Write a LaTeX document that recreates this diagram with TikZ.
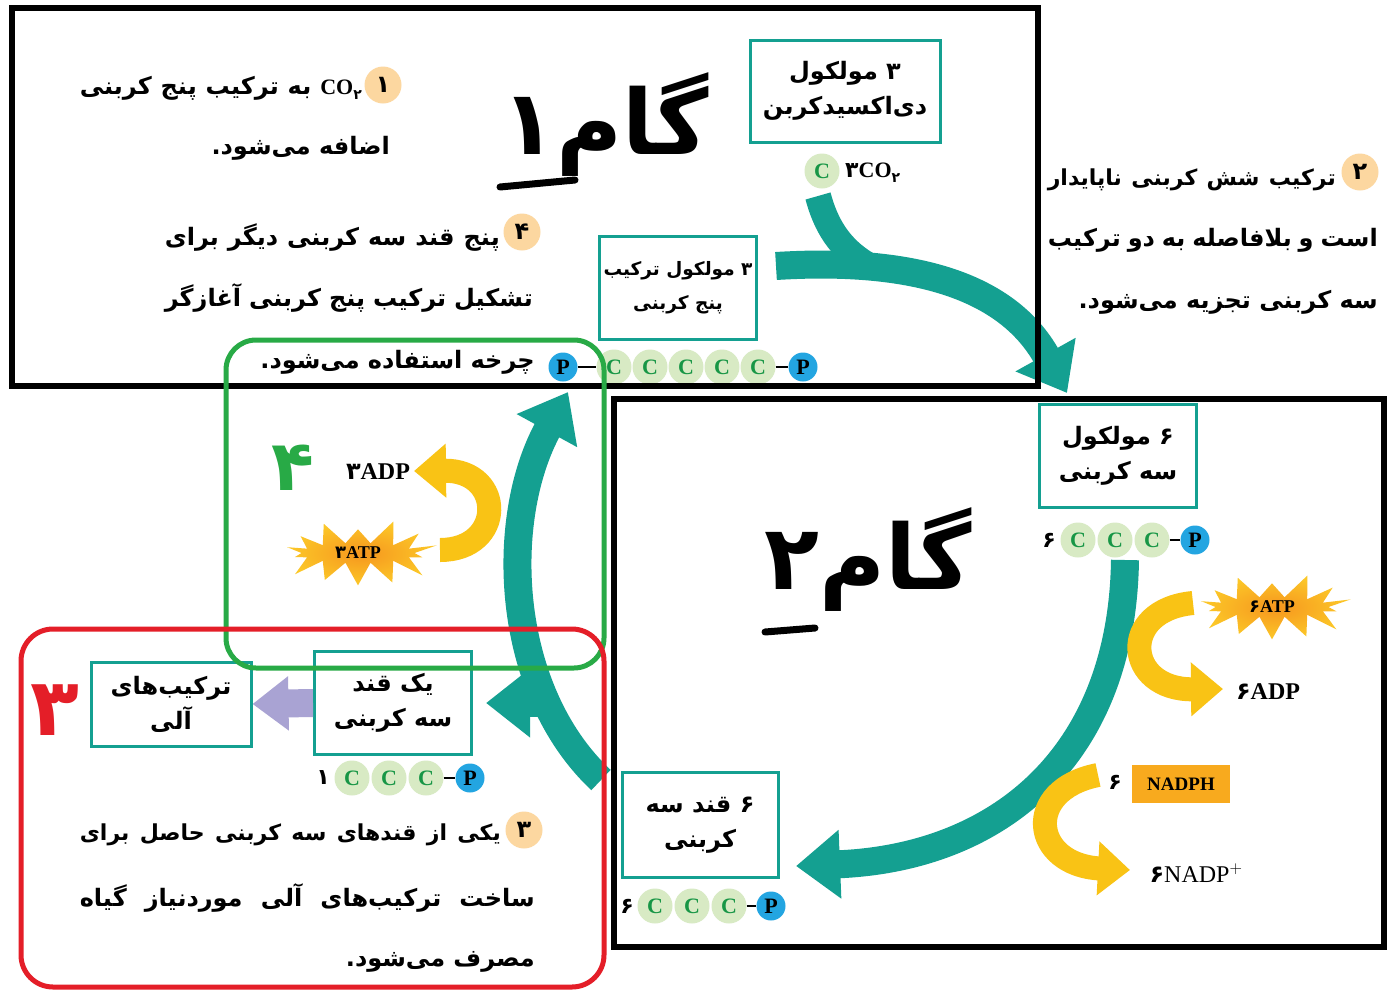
\documentclass[tikz,border=0pt]{standalone}
\usepackage{fontspec}
\usetikzlibrary{arrows.meta,shapes.symbols}
\TeXXeTstate=1
\newfontfamily\fa[Script=Arabic]{DejaVu Sans}
\newfontfamily\lat{Liberation Serif}
\definecolor{tealc}{RGB}{20,160,145}
\definecolor{cbg}{RGB}{216,234,196}
\definecolor{cfg}{RGB}{24,150,70}
\definecolor{pblue}{RGB}{35,165,225}
\definecolor{numo}{RGB}{252,215,160}
\definecolor{yel}{RGB}{249,195,21}
\definecolor{burstin}{RGB}{246,150,30}
\definecolor{burstout}{RGB}{252,200,40}
\definecolor{nadph}{RGB}{248,170,30}
\definecolor{lav}{RGB}{169,163,211}
\definecolor{grn}{RGB}{40,170,70}
\definecolor{redc}{RGB}{228,30,40}
\newcommand{\jline}[2]{\hbox to #1pt{\spaceskip=0.28em plus 1fil minus 0.08em\relax #2}}
\newcommand{\ptxt}{\fa\bfseries\fontsize{24}{28}\selectfont}
\newcommand{\pstxt}{\fa\bfseries\fontsize{22}{28}\selectfont}
\newcommand{\btxt}{\fa\bfseries\fontsize{24}{35}\selectfont}
\newcommand{\bstxt}{\fa\bfseries\fontsize{18.5}{34}\selectfont}
\newcommand{\lsb}{\lat\bfseries\fontsize{22}{24}\selectfont}
\newcommand{\sub}[1]{\raisebox{-5pt}{\fa\bfseries\fontsize{14}{14}\selectfont #1}}
\pgfmathsetseed{11}
\tikzset{
  cc/.style={circle, fill=cbg, text=cfg, font=\lsb, minimum size=35pt, inner sep=0pt},
  pp/.style={circle, fill=pblue, text=black, font=\lsb, minimum size=29pt, inner sep=0pt},
  numc/.style={circle, fill=numo, font=\ptxt, minimum size=37pt, inner sep=0pt},
  tbox/.style={draw=tealc, line width=3pt, align=center, font=\btxt, inner sep=0pt},
  ptext/.style={anchor=east, inner sep=0pt, font=\ptxt},
  band/.style={draw=tealc, line width=28pt, -{Triangle[length=44pt,width=66pt]}},
  yband/.style={draw=yel, line width=24pt, -{Triangle[length=32pt,width=52pt]}},
  burst/.style={starburst, starburst points=14, starburst point height=26pt, random starburst=35, shading=radial, inner color=burstin, outer color=burstout, minimum width=165pt, minimum height=72pt, inner sep=0pt, font=\lat\bfseries\fontsize{18}{20}\selectfont},
  dashl/.style={line width=2.5pt, draw=black},
  lbl/.style={font=\lsb, inner sep=0pt},
  blackbox/.style={draw=black, line width=6pt},
  hand/.style={font=\fa\bfseries\fontsize{90}{90}\selectfont, inner sep=0pt}
}
\begin{document}
\begin{tikzpicture}[x=1pt,y=-1pt]
\useasboundingbox (0,0) rectangle (1393,991);
\fill[white] (0,0) rectangle (1393,991);

% ---------- teal band arrows ----------
\coordinate (t1s) at (776,266);
\coordinate (t1e) at (1067,393);
\draw[band] (t1s) .. controls (905,258) and (1005,282) .. (t1e);
\coordinate (cob) at (818,196);
\coordinate (coj) at (866,264);
\draw[draw=tealc, line width=26pt] (cob) .. controls (826,226) and (840,248) .. (coj);
\coordinate (t2s) at (1125,560);
\coordinate (t2e) at (796,866);
\draw[band] (t2s) .. controls (1122,760) and (995,858) .. (t2e);
\coordinate (t3s) at (601,780);
\coordinate (t3e) at (568,392);
\draw[band] (t3s) .. controls (505,690) and (498,520) .. (t3e);
\coordinate (t4s) at (548,703);
\coordinate (t4e) at (486,703);
\draw[band] (t4s) -- (t4e);

% ---------- CO2 molecule ----------
\node[cc] (co2c) at (822,171) {C};
\node[lbl, anchor=west] (co2t) at (845,173) {{\fa\bfseries ۳}CO\sub{۲}};

% ---------- top chain ----------
\node[pp] (tp1) at (563,367) {P};
\node[cc] (tc1) at (614,367) {C};
\node[cc] (tc2) at (650,367) {C};
\node[cc] (tc3) at (686,367) {C};
\node[cc] (tc4) at (722,367) {C};
\node[cc] (tc5) at (758,367) {C};
\node[pp] (tp2) at (803,367) {P};
\draw[dashl] (tp1.east) -- (tc1.west);
\draw[dashl] (tc5.east) -- (tp2.west);

% ---------- chain 6CCC-P (right) ----------
\node[lbl] (n6a) at (1049,540) {\fa\bfseries ۶};
\node[cc] (rc1) at (1078,540) {C};
\node[cc] (rc2) at (1115,540) {C};
\node[cc] (rc3) at (1152,540) {C};
\node[pp] (rp) at (1195,540) {P};
\draw[dashl] (rc3.east) -- (rp.west);

% ---------- chain 1CCC-P ----------
\node[lbl] (n1a) at (323,778) {\fa\bfseries ۱};
\node[cc] (mc1) at (352,778) {C};
\node[cc] (mc2) at (389,778) {C};
\node[cc] (mc3) at (426,778) {C};
\node[pp] (mp) at (470,778) {P};
\draw[dashl] (mc3.east) -- (mp.west);

% ---------- chain 6CCC-P (bottom) ----------
\node[lbl] (n6b) at (627,906) {\fa\bfseries ۶};
\node[cc] (bc1) at (655,906) {C};
\node[cc] (bc2) at (692,906) {C};
\node[cc] (bc3) at (729,906) {C};
\node[pp] (bp) at (771,906) {P};
\draw[dashl] (bc3.east) -- (bp.west);

% ---------- teal boxes ----------
\node[tbox, minimum width=190pt, minimum height=102pt] (b1) at (845,91) {\beginR ۳ مولکول\endR\\\beginR دی‌اکسیدکربن\endR};
\node[tbox, font=\bstxt, minimum width=157pt, minimum height=103pt] (b2) at (678,288) {\beginR ۳ مولکول ترکیب\endR\\\beginR پنج کربنی\endR};
\node[tbox, minimum width=157pt, minimum height=103pt] (b3) at (1118,456) {\beginR ۶ مولکول\endR\\\beginR سه کربنی\endR};
\node[tbox, minimum width=156pt, minimum height=105pt] (b4) at (700,825) {\beginR ۶ قند سه\endR\\\beginR کربنی\endR};
\node[tbox, minimum width=157pt, minimum height=103pt] (b5) at (393,703) {\beginR یک قند\endR\\\beginR سه کربنی\endR};
\node[tbox, minimum width=160pt, minimum height=84pt] (b6) at (171,704) {\beginR ترکیب‌های\endR\\\beginR آلی\endR};

% purple arrow
\draw[draw=lav, line width=28pt, -{Triangle[length=36pt,width=52pt]}] (b5.west) -- (b6.east);

% ---------- paragraphs ----------
\node[numc] (k1) at (383,85) {۱};
\node[ptext] (p1a) at (362,88) {\jline{282}{\beginR \beginL{\lsb CO}\sub{۲}\endL{} به ترکیب پنج کربنی\endR}};
\node[ptext] (p1b) at (390,148) {\beginR اضافه می‌شود.\endR};

\node[numc] (k4) at (522,232) {۴};
\node[ptext] (p4a) at (500,238) {\jline{335}{\beginR پنج قند سه کربنی دیگر برای\endR}};
\node[ptext] (p4b) at (533,298) {\jline{368}{\beginR تشکیل ترکیب پنج کربنی آغازگر\endR}};
\node[ptext] (p4c) at (535,362) {\beginR چرخه استفاده می‌شود.\endR};

\node[numc] (k2) at (1360,172) {۲};
\node[ptext, font=\pstxt] (p2a) at (1336,180) {\jline{288}{\beginR ترکیب شش کربنی ناپایدار\endR}};
\node[ptext] (p2b) at (1378,240) {\jline{330}{\beginR است و بلافاصله به دو ترکیب\endR}};
\node[ptext] (p2c) at (1378,302) {\beginR سه کربنی تجزیه می‌شود.\endR};

\node[numc] (k3) at (524,830) {۳};
\node[ptext, font=\pstxt] (p3a) at (501,835) {\jline{421}{\beginR یکی از قندهای سه کربنی حاصل برای\endR}};
\node[ptext] (p3b) at (535,898) {\jline{455}{\beginR ساخت ترکیب‌های آلی موردنیاز گیاه\endR}};
\node[ptext] (p3c) at (535,962) {\beginR مصرف می‌شود.\endR};

% ---------- yellow cycles ----------
\coordinate (y1s) at (440,550);
\coordinate (y1e) at (414,471);
\draw[yband] (y1s) .. controls (505,550) and (505,470) .. (y1e);
\node[burst] (atp3) at (358,553) {{\fa\bfseries ۳}ATP};
\node[lbl, font=\lat\bfseries\fontsize{24}{26}\selectfont] (adp3) at (378,472) {{\fa\bfseries ۳}ADP};

\coordinate (y2s) at (1193,603);
\coordinate (y2e) at (1223,689);
\draw[yband] (y2s) .. controls (1118,610) and (1125,690) .. (y2e);
\node[burst] (atp6) at (1272,607) {{\fa\bfseries ۶}ATP};
\node[lbl, font=\lat\bfseries\fontsize{24}{26}\selectfont] (adp6) at (1268,692) {{\fa\bfseries ۶}ADP};

\coordinate (y3s) at (1098,775);
\coordinate (y3e) at (1130,870);
\draw[yband] (y3s) .. controls (1022,790) and (1032,865) .. (y3e);
\node[fill=nadph, minimum width=98pt, minimum height=38pt, font=\lat\bfseries\fontsize{19}{20}\selectfont, inner sep=0pt] (nad) at (1181,784) {NADPH};
\node[lbl] (n6n) at (1115,782) {\fa\bfseries ۶};
\node[font=\lat\fontsize{24}{26}\selectfont, inner sep=0pt] (nadp) at (1196,873) {{\fa\bfseries ۶}NADP$^{+}$};

% ---------- handwritten step labels ----------
\node[hand] (g1) at (605,125) {\beginR گام۱\endR};
\draw[line width=7pt, line cap=round] (500,187) -- (575,180);
\node[hand] (g2) at (868,560) {\beginR گام۲\endR};
\draw[line width=7pt, line cap=round] (765,632) -- (815,628);
\node[font=\fa\bfseries\fontsize{70}{70}\selectfont, text=grn, inner sep=0pt] (h4) at (293,468) {۴};
\node[font=\fa\bfseries\fontsize{80}{80}\selectfont, text=redc, inner sep=0pt] (h3) at (55,710) {۳};

% ---------- frames ----------
\draw[blackbox] (12,8) rectangle (1038,386);
\draw[blackbox] (614,399) rectangle (1384,947);
\draw[draw=grn, line width=5pt, rounded corners=30pt] (226,340) rectangle (604,668);
\draw[draw=redc, line width=5pt, rounded corners=32pt] (21,629) rectangle (604,987);
\end{tikzpicture}
\end{document}
